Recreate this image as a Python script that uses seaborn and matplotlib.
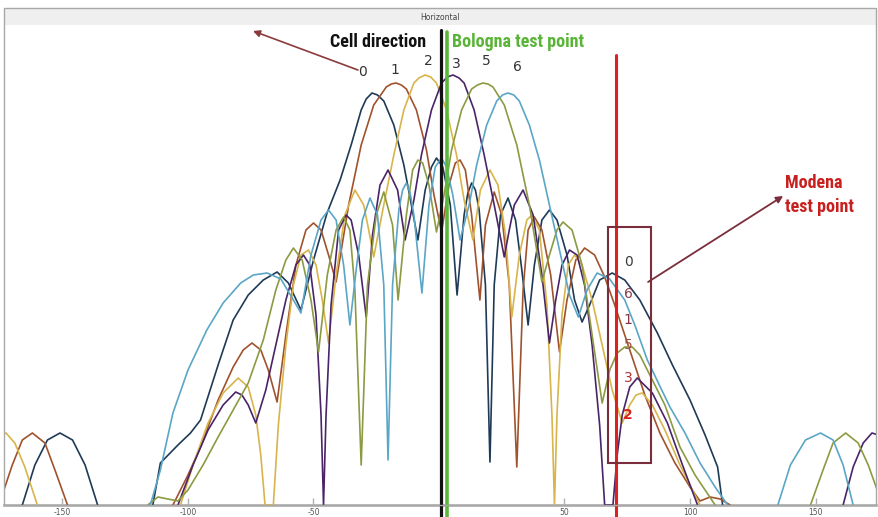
import numpy as np
import pandas as pd
import matplotlib
matplotlib.use("Agg")
import matplotlib.pyplot as plt
import matplotlib.font_manager as fm
from matplotlib.patches import Rectangle
import seaborn as sns

# ---------------- data (angle in degrees, level = relative gain units) ----------------
beam_names = ["0", "1", "2", "3", "5", "6"]
beam_colors = ["#1f3a57", "#a0522d", "#d9b44a", "#4a2468", "#8c9a42", "#5ba6c6"]

b0_ang = [-114, -111, -104, -99, -95, -88, -82, -76, -70, -64.5, -60, -55, -50, -44.6, -39.4, -35, -31, -29, -26.7, -24.5,
          -22, -18, -14, -11, -8.4, -5.5, -3, -1, 1.5, 4.5, 7.2, 10, 11.5, 13, 14.5, 16, 18.5, 20.3, 22, 24.5,
          27.5, 30.5, 33, 35.5, 38, 41, 44, 47, 51, 54, 57, 60, 64, 69, 74, 80, 87, 93, 100, 106, 111, 113]
b0_lvl = [0, 42, 60, 72, 85, 140, 185, 210, 225, 233, 222, 195, 245, 292, 325, 360, 395, 406, 412, 410,
          404, 380, 340, 300, 265, 315, 338, 347, 338, 300, 210, 290, 312, 322, 315, 295, 220, 43, 220, 290,
          307, 285, 235, 180, 240, 285, 295, 285, 250, 205, 183, 200, 225, 232, 225, 205, 172, 140, 105, 70, 38, 0]
b0_far_ang = [-166, -161, -156, -151, -146, -141, -136]
b0_far_lvl = [0, 40, 65, 72, 65, 40, 0]

b1_ang = [-106, -100, -95, -88, -82, -78, -74.5, -71, -68, -64.5, -61, -57, -53, -50, -47, -44, -41, -36, -31, -26,
          -21, -19, -17.1, -15, -13, -9, -5, -2, 1, 4, 6.5, 8.4, 10.5, 13, 16.3, 18.5, 22, 25, 28, 31,
          33.5, 35.5, 38, 41, 44.5, 48, 51, 54.5, 58, 62, 66, 70, 76, 82, 88, 94, 100, 104, 108, 112, 116]
b1_lvl = [0, 30, 58, 105, 138, 155, 162, 155, 135, 103, 170, 240, 275, 282, 275, 250, 223, 300, 360, 400,
          418, 421, 422, 420, 416, 395, 355, 310, 273, 320, 342, 345, 335, 290, 205, 280, 313, 290, 220, 38,
          215, 275, 288, 275, 230, 153, 205, 245, 257, 250, 228, 200, 155, 110, 72, 42, 18, 4, 8, 6, 0]
b1_far_ang = [-174, -170, -166, -162, -157, -153, -148]
b1_far_lvl = [10, 40, 65, 72, 62, 35, 0]

b2_ang = [-103, -98, -92, -86, -80, -76, -73, -71, -69.3, -66, -64, -61, -58, -55, -52, -49, -46.5, -44, -41, -37.5,
          -33.5, -30, -28, -26, -22, -18, -14, -10, -8, -5.6, -3.3, -1, 3, 7, 10, 13.5, 16.5, 20.3, 23.5, 26.5,
          29, 32, 35, 37, 40, 43, 45, 46, 47, 49, 51.5, 54, 57, 61, 65, 69, 73, 76, 78.5, 81, 85, 90, 96, 104]
b2_lvl = [0, 40, 82, 112, 127, 118, 90, 50, 0, 0, 80, 160, 220, 250, 255, 240, 205, 162, 230, 290,
          315, 300, 275, 248, 300, 350, 395, 422, 427, 430, 428, 422, 395, 350, 305, 265, 315, 335, 320, 270,
          188, 250, 285, 290, 275, 200, 90, 0, 90, 190, 240, 250, 240, 205, 160, 115, 82, 100, 110, 112, 100, 75, 40, 0]
b2_far_ang = [-175, -172.5, -169, -165, -160]
b2_far_lvl = [70, 72, 62, 38, 0]

b3_ang = [-104, -98, -92, -86, -81, -78.5, -76, -73, -69, -65, -61, -57, -54, -51.5, -49, -47, -46, -45, -43, -40,
          -37, -35, -32, -29, -26.5, -23.5, -20.3, -16.5, -13.5, -10, -7, -3, 1, 3.3, 5.6, 8, 10, 14, 18, 22,
          26, 28, 30, 33.5, 37.5, 41, 44, 46.5, 49, 52, 55, 58, 61, 64, 66, 69.3, 71, 73, 76, 79, 85, 91, 97, 103]
b3_lvl = [0, 40, 75, 100, 113, 110, 100, 82, 115, 160, 205, 240, 250, 240, 190, 90, 0, 90, 200, 275,
          290, 285, 250, 188, 270, 320, 335, 315, 265, 305, 350, 395, 422, 428, 430, 427, 422, 395, 350, 300,
          248, 275, 300, 315, 290, 230, 162, 205, 240, 255, 250, 220, 160, 80, 0, 0, 50, 90, 118, 127, 112, 82, 40, 0]
b3_far_ang = [161, 165, 169, 172.5, 175]
b3_far_lvl = [0, 38, 62, 72, 70]

b5_ang = [-116, -112, -108, -104, -100, -94, -88, -82, -76, -70, -65, -61, -58, -54.5, -51, -48, -44.5, -41, -38, -35.5,
          -33.5, -31, -28.5, -25, -22, -18.5, -16.3, -13, -10.5, -8.4, -6.5, -4, -1, 2, 5, 9, 13, 15.3, 17.5, 19.5,
          21.5, 26, 31, 36, 41, 44, 47, 49.4, 53, 57, 61, 65, 68, 71, 74, 77, 80, 84, 90, 96, 102, 110]
b5_lvl = [0, 8, 6, 4, 15, 40, 68, 95, 122, 165, 215, 245, 257, 245, 205, 153, 230, 275, 288, 275,
          215, 40, 220, 290, 313, 280, 205, 290, 335, 345, 342, 320, 273, 310, 355, 395, 416, 420, 422, 421,
          418, 400, 360, 300, 223, 250, 275, 283, 275, 240, 170, 102, 135, 152, 158, 158, 150, 130, 100, 58, 30, 0]
b5_far_ang = [148, 153, 157, 162, 167, 171, 175]
b5_far_lvl = [0, 35, 62, 72, 62, 40, 12]

b6_ang = [-115, -111, -106, -100, -92.5, -86, -79, -74, -68.5, -63, -58, -55, -51, -47, -44, -41, -38, -35.5, -33, -30.5,
          -27.5, -24.5, -22, -20.3, -18.5, -16, -14.5, -13, -11.5, -10, -6.8, -4, -1.5, 1, 3, 5.5, 8.4, 12, 15, 19,
          23, 25.3, 27.5, 29.8, 32, 36, 40, 44, 48, 52, 55.5, 59, 63, 68, 74, 78, 83, 92, 98, 104, 110, 115]
b6_lvl = [0, 35, 92, 135, 175, 202, 222, 230, 232, 226, 205, 192, 250, 285, 295, 285, 240, 180, 235, 285,
          307, 290, 220, 45, 220, 295, 315, 322, 312, 290, 212, 300, 338, 347, 338, 310, 265, 300, 340, 380,
          404, 410, 412, 410, 404, 380, 345, 300, 255, 210, 188, 215, 232, 226, 205, 180, 145, 98, 72, 42, 18, 0]
b6_far_ang = [135, 140, 146, 152, 157, 161, 165]
b6_far_lvl = [0, 40, 65, 72, 65, 40, 0]

x_ticks = [-150, -100, -50, 50, 100, 150]
cell_direction = 0.8
bologna_angle = 3.2
modena_angle = 70.5
modena_order = ["0", "6", "1", "5", "3", "2"]
modena_colors = ["#3a3a3a", "#8a3a48", "#8a3040", "#a05040", "#b03038", "#d42020"]

# ---------------- tidy table ----------------
segments = [
    ("0", b0_ang, b0_lvl), ("0", b0_far_ang, b0_far_lvl),
    ("1", b1_ang, b1_lvl), ("1", b1_far_ang, b1_far_lvl),
    ("2", b2_ang, b2_lvl), ("2", b2_far_ang, b2_far_lvl),
    ("3", b3_ang, b3_lvl), ("3", b3_far_ang, b3_far_lvl),
    ("5", b5_ang, b5_lvl), ("5", b5_far_ang, b5_far_lvl),
    ("6", b6_ang, b6_lvl), ("6", b6_far_ang, b6_far_lvl),
]
rows = []
for i, (name, a, l) in enumerate(segments):
    assert len(a) == len(l), (name, len(a), len(l))
    for aa, ll in zip(a, l):
        rows.append({"beam": name, "seg": i, "angle": aa, "level": ll})
df = pd.DataFrame(rows)

# ---------------- style ----------------
sns.set_theme(style="white")
avail = {f.name for f in fm.fontManager.ttflist}
cond = "DejaVu Sans"
for cand in ["Roboto Condensed", "Liberation Sans Narrow", "Open Sans Condensed", "Noto Sans Condensed"]:
    if cand in avail:
        cond = cand
        break
big_fs = 13 if cond != "DejaVu Sans" else 10
plt.rcParams["font.family"] = ["DejaVu Sans"]

W, H = 879, 517
fig = plt.figure(figsize=(W / 100, H / 100), dpi=100)
fig.patch.set_facecolor("white")

# panel frame and title band
fig.patches.append(Rectangle((4 / W, (H - 25) / H), 872 / W, 17 / H, transform=fig.transFigure,
                             facecolor="#efefef", edgecolor="none", zorder=0))
fig.patches.append(Rectangle((4 / W, 12 / H), 872 / W, (H - 8 - 12) / H, transform=fig.transFigure,
                             facecolor="none", edgecolor="#a8a8a8", lw=1.0, zorder=0))
fig.text(440 / W, (H - 17) / H, "Horizontal", ha="center", va="center", fontsize=5.5, color="#444444")

ax = fig.add_axes([4 / W, 12 / H, 872 / W, 480 / H])
ax.set_facecolor("none")

sns.lineplot(data=df, x="angle", y="level", hue="beam", units="seg", estimator=None, sort=False,
             hue_order=beam_names, palette=dict(zip(beam_names, beam_colors)), legend=False,
             linewidth=1.2, ax=ax, zorder=3)

ax.set_xlim(-173.3, 174.1)
ax.set_ylim(0, 480)
ax.set_xlabel("")
ax.set_ylabel("")
ax.set_yticks([])
ax.set_xticks(x_ticks)
ax.set_xticklabels([str(t) for t in x_ticks])
ax.tick_params(axis="x", direction="in", length=5, width=1, color="#b0b0b0", labelsize=5.5,
               labelcolor="#555555", pad=2, bottom=True)
for s in ["top", "left", "right"]:
    ax.spines[s].set_visible(False)
ax.spines["bottom"].set_color("#b5b5b5")
ax.spines["bottom"].set_linewidth(2)

# vertical reference lines
ax.plot([cell_direction, cell_direction], [475, -12], color="#111111", lw=2.3, clip_on=False, zorder=5)
ax.plot([bologna_angle, bologna_angle], [473, -12], color="#5cb83c", lw=2.6, clip_on=False, zorder=5)
ax.plot([modena_angle, modena_angle], [450, -12], color="#dd2020", lw=2.2, clip_on=False, zorder=5)

# beam labels above main lobes
lobe_labels = [("0", -30.3, 433), ("1", -17.5, 435), ("2", -4.4, 444), ("3", 6.8, 441), ("5", 18.7, 444), ("6", 31.1, 438)]
for t, xa, yl in lobe_labels:
    ax.text(xa, yl, t, ha="center", va="center", fontsize=10, color="#333333", zorder=6, clip_on=False)

# headline texts
ax.text(-24.3, 463, "Cell direction", ha="center", va="center", fontsize=big_fs, fontweight="bold",
        family=[cond, "DejaVu Sans"], fontstretch="condensed", color="#111111", clip_on=False)
ax.text(31.5, 463, "Bologna test point", ha="center", va="center", fontsize=big_fs, fontweight="bold",
        family=[cond, "DejaVu Sans"], fontstretch="condensed", color="#5ab437", clip_on=False)
ax.text(138, 322, "Modena", ha="left", va="center", fontsize=big_fs, fontweight="bold",
        family=[cond, "DejaVu Sans"], fontstretch="condensed", color="#c8201e", clip_on=False)
ax.text(138, 298, "test point", ha="left", va="center", fontsize=big_fs, fontweight="bold",
        family=[cond, "DejaVu Sans"], fontstretch="condensed", color="#c8201e", clip_on=False)

# ssb 0 label and arrow
ax.text(-72.1, 488, "ssb 0", ha="center", va="center", fontsize=7, fontweight="bold", color="#e09a18",
        clip_on=False, bbox=dict(boxstyle="round,pad=0.15", facecolor="#fbf0c8", edgecolor="none", alpha=0.7))
ax.annotate("", xy=(-74.1, 474), xytext=(-32.3, 435), annotation_clip=False,
            arrowprops=dict(arrowstyle="-|>", color="#8b3a3a", lw=1.2, mutation_scale=10, shrinkA=0, shrinkB=0))

# Modena box and ordering
ax.add_patch(Rectangle((67.3, 42), 17.2, 236, facecolor="none", edgecolor="#7a2d3a", lw=1.5, zorder=6))
for (t, c), yl in zip(zip(modena_order, modena_colors), [243, 211, 185, 160, 127, 90]):
    ax.text(75.3, yl, t, ha="center", va="center", fontsize=10, color=c, zorder=7,
            fontweight="bold" if t == "2" else "normal")
ax.annotate("", xy=(137.1, 309), xytext=(83.3, 223), annotation_clip=False,
            arrowprops=dict(arrowstyle="-|>", color="#7a2d3a", lw=1.3, mutation_scale=10, shrinkA=0, shrinkB=0))

fig.savefig("out.png", dpi=100)
